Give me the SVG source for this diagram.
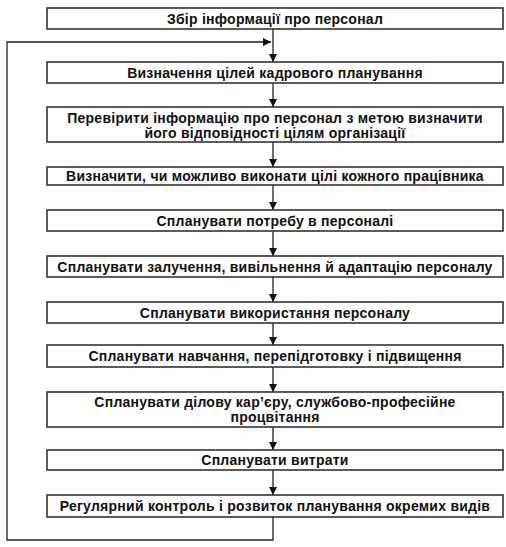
<svg xmlns="http://www.w3.org/2000/svg" width="506" height="547" viewBox="0 0 506 547">
<style>
.box{fill:#fff;stroke:#333;stroke-width:1.6}
.t{font-family:"Liberation Sans",Arial,sans-serif;font-weight:bold;font-size:14px;letter-spacing:0.25px;fill:#111;text-anchor:middle}
.c{fill:none;stroke:#222;stroke-width:1.3}
</style>
<defs>
<marker id="ah" viewBox="0 0 10 10" refX="10" refY="5" markerWidth="9" markerHeight="8" markerUnits="userSpaceOnUse" orient="auto">
<path d="M0,0 L10,5 L0,10 Z" fill="#111"/>
</marker>
</defs>
<rect width="506" height="547" fill="#fff"/>
<g id="connectors">
<path class="c" d="M273,29 V62" marker-end="url(#ah)"/>
<path class="c" d="M273,517 V540 H7 V42 H271" marker-end="url(#ah)"/>
<path class="c" d="M273,83 V107" marker-end="url(#ah)"/>
<path class="c" d="M273,142 V167" marker-end="url(#ah)"/>
<path class="c" d="M273,185 V210" marker-end="url(#ah)"/>
<path class="c" d="M273,231 V256" marker-end="url(#ah)"/>
<path class="c" d="M273,277 V302" marker-end="url(#ah)"/>
<path class="c" d="M273,323 V345" marker-end="url(#ah)"/>
<path class="c" d="M273,367 V392" marker-end="url(#ah)"/>
<path class="c" d="M273,427 V450" marker-end="url(#ah)"/>
<path class="c" d="M273,470 V495" marker-end="url(#ah)"/>
</g>
<g id="n1"><rect class="box" x="47" y="8" width="456" height="21"/><text class="t" x="275" y="23.5">Збір інформації про персонал</text></g>
<g id="n2"><rect class="box" x="47" y="62" width="456" height="21"/><text class="t" x="275" y="77.5">Визначення цілей кадрового планування</text></g>
<g id="n3"><rect class="box" x="47" y="107" width="456" height="35"/><text class="t" x="275" y="123">Перевірити інформацію про персонал з метою визначити</text><text class="t" x="275" y="138">його відповідності цілям організації</text></g>
<g id="n4"><rect class="box" x="47" y="167" width="456" height="18"/><text class="t" x="275" y="181">Визначити, чи можливо виконати цілі кожного працівника</text></g>
<g id="n5"><rect class="box" x="47" y="210" width="456" height="21"/><text class="t" x="275" y="225.5">Спланувати потребу в персоналі</text></g>
<g id="n6"><rect class="box" x="47" y="256" width="456" height="21"/><text class="t" x="275" y="271.5">Спланувати залучення, вивільнення й адаптацію персоналу</text></g>
<g id="n7"><rect class="box" x="47" y="302" width="456" height="21"/><text class="t" x="275" y="317.5">Спланувати використання персоналу</text></g>
<g id="n8"><rect class="box" x="47" y="345" width="456" height="22"/><text class="t" x="275" y="361">Спланувати навчання, перепідготовку і підвищення</text></g>
<g id="n9"><rect class="box" x="47" y="392" width="456" height="35"/><text class="t" x="275" y="407">Спланувати ділову кар’єру, службово-професійне</text><text class="t" x="275" y="422">процвітання</text></g>
<g id="n10"><rect class="box" x="47" y="450" width="456" height="20"/><text class="t" x="275" y="465">Спланувати витрати</text></g>
<g id="n11"><rect class="box" x="47" y="495" width="456" height="22"/><text class="t" x="275" y="511">Регулярний контроль і розвиток планування окремих видів</text></g>
</svg>
